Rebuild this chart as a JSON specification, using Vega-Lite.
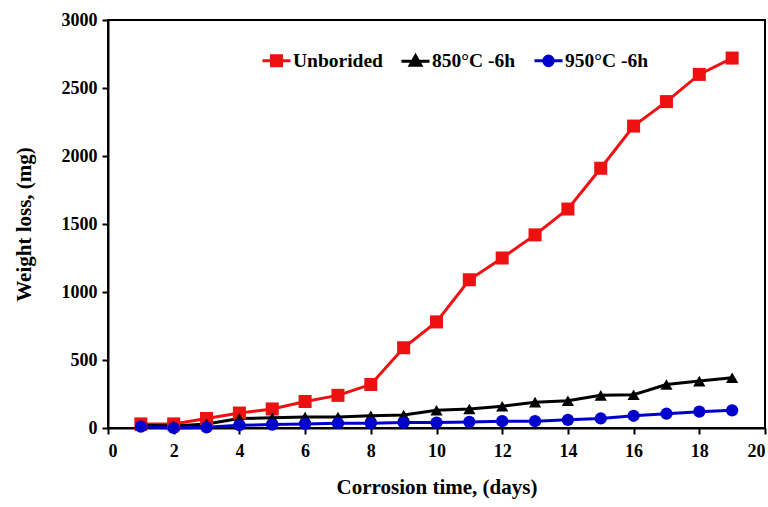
{
  "$schema": "https://vega.github.io/schema/vega-lite/v6.json",
  "width": 657,
  "height": 408,
  "autosize": {"type": "none"},
  "padding": {"left": 108, "top": 20, "right": 3, "bottom": 79},
  "background": "white",
  "config": {
    "view": {"stroke": "black", "strokeWidth": 2},
    "font": "Liberation Serif",
    "legend": {
      "orient": "none",
      "legendX": 153,
      "legendY": 25,
      "direction": "horizontal",
      "labelFont": "Liberation Serif",
      "labelFontWeight": "bold",
      "labelFontSize": 19.5,
      "labelColor": "black",
      "symbolSize": 784,
      "symbolStrokeWidth": 3,
      "symbolOpacity": 1,
      "labelOffset": 1,
      "columnPadding": 12
    },
    "axis": {
      "grid": false,
      "domainColor": "black",
      "domainWidth": 2,
      "tickColor": "black",
      "tickWidth": 2,
      "tickSize": 6,
      "labelFont": "Liberation Serif",
      "labelFontWeight": "bold",
      "labelFontSize": 18,
      "labelColor": "black",
      "titleFont": "Liberation Serif",
      "titleFontWeight": "bold",
      "titleFontSize": 21,
      "titleColor": "black"
    }
  },
  "data": {
    "values": [
      {"day": 1, "series": "Unborided", "loss": 30},
      {"day": 2, "series": "Unborided", "loss": 30},
      {"day": 3, "series": "Unborided", "loss": 70},
      {"day": 4, "series": "Unborided", "loss": 110},
      {"day": 5, "series": "Unborided", "loss": 140},
      {"day": 6, "series": "Unborided", "loss": 195},
      {"day": 7, "series": "Unborided", "loss": 240},
      {"day": 8, "series": "Unborided", "loss": 320},
      {"day": 9, "series": "Unborided", "loss": 590},
      {"day": 10, "series": "Unborided", "loss": 780},
      {"day": 11, "series": "Unborided", "loss": 1090},
      {"day": 12, "series": "Unborided", "loss": 1250},
      {"day": 13, "series": "Unborided", "loss": 1420},
      {"day": 14, "series": "Unborided", "loss": 1610},
      {"day": 15, "series": "Unborided", "loss": 1910},
      {"day": 16, "series": "Unborided", "loss": 2220},
      {"day": 17, "series": "Unborided", "loss": 2400},
      {"day": 18, "series": "Unborided", "loss": 2600},
      {"day": 19, "series": "Unborided", "loss": 2720},
      {"day": 1, "series": "850°C -6h", "loss": 20},
      {"day": 2, "series": "850°C -6h", "loss": 15},
      {"day": 3, "series": "850°C -6h", "loss": 30},
      {"day": 4, "series": "850°C -6h", "loss": 70},
      {"day": 5, "series": "850°C -6h", "loss": 75},
      {"day": 6, "series": "850°C -6h", "loss": 80},
      {"day": 7, "series": "850°C -6h", "loss": 80},
      {"day": 8, "series": "850°C -6h", "loss": 90},
      {"day": 9, "series": "850°C -6h", "loss": 95},
      {"day": 10, "series": "850°C -6h", "loss": 130},
      {"day": 11, "series": "850°C -6h", "loss": 140},
      {"day": 12, "series": "850°C -6h", "loss": 160},
      {"day": 13, "series": "850°C -6h", "loss": 190},
      {"day": 14, "series": "850°C -6h", "loss": 200},
      {"day": 15, "series": "850°C -6h", "loss": 240},
      {"day": 16, "series": "850°C -6h", "loss": 245},
      {"day": 17, "series": "850°C -6h", "loss": 320},
      {"day": 18, "series": "850°C -6h", "loss": 345},
      {"day": 19, "series": "850°C -6h", "loss": 370},
      {"day": 1, "series": "950°C -6h", "loss": 10},
      {"day": 2, "series": "950°C -6h", "loss": 0},
      {"day": 3, "series": "950°C -6h", "loss": 5},
      {"day": 4, "series": "950°C -6h", "loss": 20},
      {"day": 5, "series": "950°C -6h", "loss": 25},
      {"day": 6, "series": "950°C -6h", "loss": 30},
      {"day": 7, "series": "950°C -6h", "loss": 35},
      {"day": 8, "series": "950°C -6h", "loss": 35},
      {"day": 9, "series": "950°C -6h", "loss": 40},
      {"day": 10, "series": "950°C -6h", "loss": 40},
      {"day": 11, "series": "950°C -6h", "loss": 45},
      {"day": 12, "series": "950°C -6h", "loss": 50},
      {"day": 13, "series": "950°C -6h", "loss": 50},
      {"day": 14, "series": "950°C -6h", "loss": 60},
      {"day": 15, "series": "950°C -6h", "loss": 70},
      {"day": 16, "series": "950°C -6h", "loss": 90},
      {"day": 17, "series": "950°C -6h", "loss": 105},
      {"day": 18, "series": "950°C -6h", "loss": 120},
      {"day": 19, "series": "950°C -6h", "loss": 130}
    ]
  },
  "encoding": {
    "x": {
      "field": "day", "type": "quantitative",
      "scale": {"domain": [0, 20], "nice": false},
      "axis": {"values": [0,2,4,6,8,10,12,14,16,18,20], "format": "d", "title": "Corrosion time, (days)", "titlePadding": 16, "labelPadding": 8}
    },
    "y": {
      "field": "loss", "type": "quantitative",
      "scale": {"domain": [0, 3000], "nice": false},
      "axis": {"values": [0,500,1000,1500,2000,2500,3000], "format": "d", "title": "Weight loss, (mg)", "titlePadding": 27, "labelPadding": 5}
    }
  },
  "layer": [
    {
      "mark": {"type": "line", "strokeWidth": 3},
      "encoding": {
        "color": {
          "field": "series", "type": "nominal",
          "scale": {"domain": ["Unborided", "850°C -6h", "950°C -6h"], "range": ["#ee1111", "#000000", "#0000cc"]},
          "legend": {"title": null}
        }
      }
    },
    {
      "transform": [{"filter": "datum.series === 'Unborided'"}],
      "mark": {"type": "point", "filled": true, "opacity": 1, "size": 170, "shape": "square", "color": "#ee1111"}
    },
    {
      "transform": [{"filter": "datum.series === '850°C -6h'"}],
      "mark": {"type": "point", "filled": true, "opacity": 1, "size": 150, "shape": "triangle-up", "color": "#000000"}
    },
    {
      "transform": [{"filter": "datum.series === '950°C -6h'"}],
      "mark": {"type": "point", "filled": true, "opacity": 1, "size": 150, "shape": "circle", "color": "#0000cc"}
    },
    {
      "transform": [{"filter": "datum.day > 100"}],
      "mark": {"type": "point", "filled": true, "opacity": 1, "strokeWidth": 3},
      "encoding": {
        "color": {
          "field": "series", "type": "nominal",
          "scale": {"domain": ["Unborided", "850°C -6h", "950°C -6h"], "range": ["#ee1111", "#000000", "#0000cc"]},
          "legend": {"title": null}
        },
        "stroke": {
          "field": "series", "type": "nominal",
          "scale": {"domain": ["Unborided", "850°C -6h", "950°C -6h"], "range": ["#ee1111", "#000000", "#0000cc"]},
          "legend": {"title": null}
        },
        "shape": {
          "field": "series", "type": "nominal",
          "scale": {"domain": ["Unborided", "850°C -6h", "950°C -6h"], "range": ["M-1,0H1M-0.36,-0.36H0.36V0.36H-0.36Z", "M-1,0H1M0,-0.38L0.38,0.3H-0.38Z", "M-1,0H1M-0.34,0A0.34,0.34 0 1,0 0.34,0A0.34,0.34 0 1,0 -0.34,0Z"]},
          "legend": {"title": null}
        }
      }
    }
  ]
}
